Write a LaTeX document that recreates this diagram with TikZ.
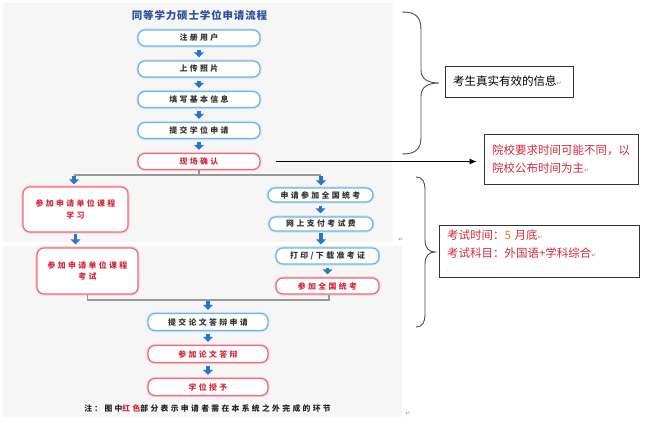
\documentclass[tikz,border=0pt]{standalone}
\usepackage{fontspec}
\usetikzlibrary{arrows.meta}
\newfontfamily\cjk{Noto Sans CJK SC}
\newfontfamily\cjkbox[LetterSpace=30]{Noto Sans CJK SC}
\newfontfamily\cjktitle[LetterSpace=8]{Noto Sans CJK SC}
\newfontfamily\symf{DejaVu Sans}
\definecolor{bluebd}{HTML}{74B4E4}
\definecolor{redbd}{HTML}{E8707E}
\definecolor{redtx}{HTML}{D42A3C}
\definecolor{titleblue}{HTML}{2C4F9E}
\definecolor{arrowblue}{HTML}{2E74C8}
\definecolor{bggray}{HTML}{F6F6F6}
\definecolor{orangefive}{HTML}{E07A20}
\newcommand{\ret}{{\symf\fontsize{6}{6}\selectfont\color{black!45}↵}}
\tikzset{
  flowbox/.style={rounded corners=7pt, fill=white, line width=1.2pt, inner sep=0pt,
    font=\cjkbox\bfseries\fontsize{7.9}{11.5}\selectfont, align=center},
  bluebox/.style={flowbox, draw=bluebd, text=black!80, preaction={draw=bluebd!35, line width=3.2pt}},
  redbox/.style={flowbox, draw=redbd, text=redtx, preaction={draw=redbd!35, line width=3.2pt}},
  downarrow/.style={draw=arrowblue, line width=3.6pt, -{Triangle[width=9.5pt,length=5pt]},
    shorten <=3pt, shorten >=3pt},
  splitline/.style={draw=black!40, line width=1.3pt},
  notebox/.style={draw=black!80, line width=0.8pt, fill=white, inner xsep=8pt, inner ysep=0pt,
    align=left, font=\cjk\fontsize{11.5}{18}\selectfont},
  bracepath/.style={draw=black!70, line width=0.9pt}
}
\begin{document}
\begin{tikzpicture}[x=1pt,y=-1pt]
\useasboundingbox (0,0) rectangle (650,425);
% background panels
\fill[bggray] (3,3) rectangle (393,242);
\fill[bggray] (3,245.5) rectangle (402,417);

% title
\node[font=\cjktitle\bfseries\fontsize{10.5}{12}\selectfont, text=titleblue] (title) at (199.5,15) {同等学力硕士学位申请流程};

% main column
\node[bluebox, minimum width=122pt, minimum height=16pt] (reg) at (199,38) {注册用户};
\node[bluebox, minimum width=122pt, minimum height=16pt] (photo) at (199,69) {上传照片};
\node[bluebox, minimum width=122pt, minimum height=16pt] (info) at (199,99.5) {填写基本信息};
\node[bluebox, minimum width=122pt, minimum height=16pt] (apply) at (199,130.5) {提交学位申请};
\node[redbox, minimum width=122pt, minimum height=16pt] (confirm) at (199,161.5) {现场确认};

\draw[downarrow] (reg) -- (photo);
\draw[downarrow] (photo) -- (info);
\draw[downarrow] (info) -- (apply);
\draw[downarrow] (apply) -- (confirm);

% split
\coordinate (sL) at (74,175);
\coordinate (sR) at (321,175);
\draw[splitline] (confirm.south) -- (confirm.south |- sL);
\draw[splitline] (sL) -- (sR);

% left branch
\node[redbox, minimum width=105pt, minimum height=45pt] (study) at (75.5,209.5) {参加申请单位课程\\学习};
\node[redbox, minimum width=101pt, minimum height=46pt] (exam) at (87.5,271) {参加申请单位课程\\考试};
% right branch
\node[bluebox, minimum width=105pt, minimum height=14pt] (natapply) at (320.5,195) {申请参加全国统考};
\node[bluebox, minimum width=104pt, minimum height=14pt] (pay) at (321,224) {网上支付考试费};
\node[bluebox, minimum width=103pt, minimum height=16pt] (print) at (327.5,256) {打印/下载准考证};
\node[redbox, minimum width=103pt, minimum height=16pt] (natexam) at (327.5,286) {参加全国统考};

\draw[downarrow, shorten <=1pt, shorten >=2pt] (sL) -- (sL |- study.north);
\draw[downarrow, shorten <=1pt, shorten >=2pt] (sR) -- (sR |- natapply.north);
\draw[downarrow] (natapply) -- (natapply |- pay.north);
\draw[downarrow, shorten <=1pt] (study.south) -- (study.south |- exam.north);
\draw[downarrow, shorten <=1pt] (pay.south) -- (pay.south |- print.north);
\draw[downarrow] (print) -- (natexam);

% merge
\coordinate (mL) at (87.5,300);
\coordinate (mR) at (329,300);
\coordinate (mM) at (208,300);
\draw[splitline] (exam.south) -- (mL) -- (mR) -- (mR |- natexam.south);

% bottom column
\node[bluebox, minimum width=120pt, minimum height=17pt] (thesis) at (208,322) {提交论文答辩申请};
\node[redbox, minimum width=120pt, minimum height=17pt] (defense) at (208,354) {参加论文答辩};
\node[redbox, minimum width=120pt, minimum height=17pt] (grant) at (208,387) {学位授予};

\draw[downarrow, shorten <=1pt] (mM) -- (thesis.north);
\draw[downarrow] (thesis) -- (defense);
\draw[downarrow] (defense) -- (grant);

% footnote
\node[font=\cjkbox\bfseries\fontsize{7.8}{9}\selectfont, text=black!85] (foot) at (207.5,409)
  {注：图中{\color{redtx}红色}部分表示申请者需在本系统之外完成的环节};

% right-hand notes
\node[notebox, text width=112pt, minimum height=31pt, text=black] (note1) at (509,81.5)
  {考生真实有效的信息\ret};
\node[notebox, text width=138pt, minimum height=50pt, text=redtx] (note2) at (561,159)
  {院校要求时间可能不同，以\\院校公布时间为主\ret};
\node[notebox, text width=184pt, minimum height=52pt, text=redtx] (note3) at (539,251)
  {考试时间：{\color{orangefive}5} 月底\ret\\考试科目：外国语+学科综合\ret\\[-4pt]{\fontsize{6}{6}\selectfont\color{black!40}.}};

\draw[black, line width=1pt, -{Latex[length=7pt,width=6pt]}, shorten <=15pt, shorten >=7pt]
  (confirm.east) -- (confirm.east -| note2.west);

% braces
\draw[bracepath] (402,12) .. controls (416,12) and (421,17) .. (421,30) -- (421,70)
  .. controls (421,79) and (428,83) .. (439,83)
  .. controls (428,83) and (421,87) .. (421,96) -- (421,137)
  .. controls (421,149) and (416,154) .. (402,154);
\draw[bracepath] (416,177) .. controls (422,177) and (425,181) .. (425,190) -- (425,240)
  .. controls (425,248) and (429,252) .. (435,252)
  .. controls (429,252) and (425,256) .. (425,264) -- (425,314)
  .. controls (425,323) and (422,327) .. (416,327);

% stray paragraph marks
\node[inner sep=0pt] (pm1) at (401,240) {\ret};
\node[inner sep=0pt] (pm2) at (408,414) {\ret};
\end{tikzpicture}
\end{document}
